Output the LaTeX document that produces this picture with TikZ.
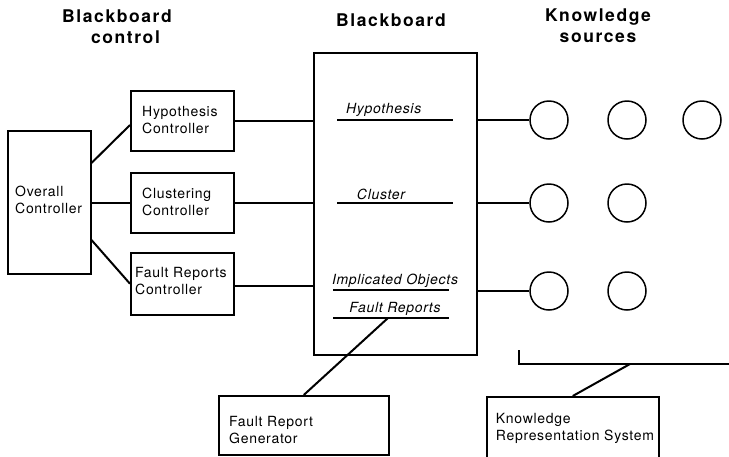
\documentclass[tikz,border=0pt]{standalone}
\usepackage{fontspec}
\setmainfont{TeX Gyre Heros}[LetterSpace=5]
\newfontfamily\ttlfont{TeX Gyre Heros}[LetterSpace=9]
\begin{document}
\begin{tikzpicture}[x=1pt,y=-1pt,
  box/.style={draw, line width=1.5pt, inner sep=0pt, anchor=north west},
  txt/.style={font=\fontsize{14}{16.7}\selectfont, align=left, inner sep=0pt, anchor=west},
  ttl/.style={font=\ttlfont\bfseries\fontsize{17.5}{21}\selectfont, align=center, inner sep=0pt},
  lab/.style={font=\fontsize{14}{16.7}\selectfont\itshape, inner sep=0pt, anchor=base},
  ks/.style={draw, circle, minimum size=38pt, inner sep=0pt, line width=1.5pt},
  link/.style={line width=1.5pt},
  slant/.style={line width=2pt},
  uline/.style={line width=1.5pt}]
\fill[white] (0,0) rectangle (729,456);
\useasboundingbox (0,0) rectangle (729,456);

% titles
\node[ttl] (t1) at (117,26.7) {Blackboard\\\hspace*{17pt}control};
\node[ttl, anchor=base] (t2) at (391,26) {Blackboard};
\node[ttl] (t3) at (598,26) {Knowledge\\sources};

% control boxes
\node[box, minimum width=83pt, minimum height=143pt] (oc) at (7,130) {};
\node[box, minimum width=103pt, minimum height=60pt] (hc) at (130,90) {};
\node[box, minimum width=103pt, minimum height=60pt] (cc) at (130,172) {};
\node[box, minimum width=103pt, minimum height=62pt] (fc) at (130,252) {};
\node[txt] (oct) at (15,200) {Overall\\Controller};
\node[txt] (hct) at (142,120) {Hypothesis\\Controller};
\node[txt] (cct) at (142,202) {Clustering\\Controller};
\node[txt] (fct) at (135,281) {Fault Reports\\Controller};

% blackboard
\node[box, minimum width=163pt, minimum height=302pt] (bb) at (313,52) {};
\node[lab] (lh) at (383.7,113) {Hypothesis};
\node[lab] (lc) at (381,199) {Cluster};
\node[lab] (li) at (395,284) {Implicated Objects};
\node[lab] (lf) at (395,312) {Fault Reports};
\coordinate (uh1) at (337,120); \coordinate (uh2) at (453,120);
\coordinate (uc1) at (337,203); \coordinate (uc2) at (453,203);
\coordinate (ui1) at (333,290); \coordinate (ui2) at (449,290);
\coordinate (uf1) at (333,318); \coordinate (uf2) at (449,318);
\draw[uline] (uh1) -- (uh2);
\draw[uline] (uc1) -- (uc2);
\draw[uline] (ui1) -- (ui2);
\draw[uline] (uf1) -- (uf2);

% knowledge sources
\node[ks] (k11) at (549,120) {};
\node[ks] (k12) at (627,120) {};
\node[ks] (k13) at (702,120) {};
\node[ks] (k21) at (549,203) {};
\node[ks] (k22) at (627,203) {};
\node[ks] (k31) at (549,291) {};
\node[ks] (k32) at (627,291) {};

% bottom boxes
\node[box, minimum width=170pt, minimum height=59pt] (frg) at (218,395) {};
\node[txt] (frgt) at (229,430) {Fault Report\\Generator};
\node[box, minimum width=172pt, minimum height=64pt] (krs) at (486,396) {};
\node[txt] (krst) at (495.7,428.5) {Knowledge\\Representation System};

% connectors
\draw[slant] (oc.east |- 0,163) -- (hc.west |- 0,125);
\draw[link] (oc.east |- cc.west) -- (cc.west);
\draw[slant] (oc.east |- 0,240) -- (fc.west);
\draw[link] (hc.east) -- (bb.west |- hc.east);
\draw[link] (cc.east |- 0,203) -- (bb.west |- 0,203);
\draw[link] (fc.east |- 0,286) -- (bb.west |- 0,286);
\draw[link] (bb.east |- k11.west) -- (k11.west);
\draw[link] (bb.east |- k21.west) -- (k21.west);
\draw[link] (bb.east |- k31.west) -- (k31.west);
\coordinate (fsrc) at (388,318);
\draw[slant] (fsrc) -- (frg.north);
\coordinate (kt) at (519,350);
\coordinate (kb) at (519,364);
\coordinate (ke) at (729,364);
\coordinate (kj) at (630,364);
\draw[link] (kt) -- (kb) -- (ke);
\draw[slant] (kj) -- (krs.north);
\end{tikzpicture}
\end{document}
